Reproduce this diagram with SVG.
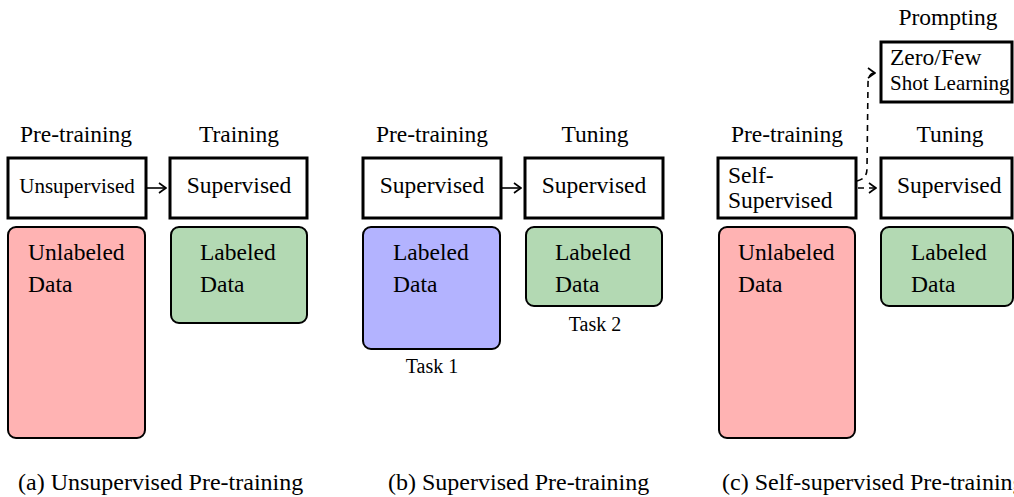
<svg xmlns="http://www.w3.org/2000/svg" width="1014" height="497" viewBox="0 0 1014 497">
<style>
text{fill:#000}
.t{font-size:23.5px}
.s{font-size:21px}
.k{font-size:20px}
.c{font-size:24px}
.m{text-anchor:middle}
.box{fill:#fff;stroke:#000;stroke-width:3}
.data{stroke:#000;stroke-width:2}
.red{fill:#FFB3B3}
.grn{fill:#B3D9B3}
.blu{fill:#B3B3FF}
.ar{fill:none;stroke:#000;stroke-width:1.6}
.dash{stroke-dasharray:6 5}
</style>
<defs>
<marker id="chev" viewBox="0 0 10 12" refX="9" refY="6" markerWidth="10" markerHeight="12" markerUnits="userSpaceOnUse" orient="auto">
<path d="M2,1 Q6,4 9,6 Q6,8 2,11" fill="none" stroke="#000" stroke-width="1.6"/>
</marker>
</defs>
<g id="connectors">
<path class="ar" d="M147,188 L166,188" marker-end="url(#chev)"/>
<path class="ar" d="M502,188 L521,188" marker-end="url(#chev)"/>
<path class="ar dash" d="M858,188 L876,188" marker-end="url(#chev)"/>
<path class="ar dash" d="M857,181 C864,179 867,176 867,168 L868,84 C868,77 870,73 875,73" marker-end="url(#chev)"/>
</g>
<g font-family="'Liberation Serif', Tinos, 'Times New Roman', 'DejaVu Serif', serif">
<g id="panel-a">
<text class="t m" x="76" y="142">Pre-training</text>
<text class="t m" x="239" y="142">Training</text>
<g id="a-unsup"><rect class="box" x="8" y="158" width="138" height="60"/><text class="s m" x="77" y="193">Unsupervised</text></g>
<g id="a-sup"><rect class="box" x="170" y="158" width="137" height="60"/><text class="t m" x="239" y="193">Supervised</text></g>
<g id="a-unlabeled"><rect class="data red" x="8" y="227" width="137" height="211" rx="8"/><text class="t" x="28" y="260">Unlabeled</text><text class="t" x="28" y="292">Data</text></g>
<g id="a-labeled"><rect class="data grn" x="171" y="227" width="136" height="96" rx="8"/><text class="t" x="200" y="260">Labeled</text><text class="t" x="200" y="292">Data</text></g>
<text class="c" x="18" y="490">(a) Unsupervised Pre-training</text>
</g>
<g id="panel-b">
<text class="t m" x="432" y="142">Pre-training</text>
<text class="t m" x="595" y="142">Tuning</text>
<g id="b-sup1"><rect class="box" x="363" y="158" width="138" height="60"/><text class="t m" x="432" y="193">Supervised</text></g>
<g id="b-sup2"><rect class="box" x="525" y="158" width="138" height="60"/><text class="t m" x="594" y="193">Supervised</text></g>
<g id="b-labeled1"><rect class="data blu" x="363" y="227" width="137" height="122" rx="8"/><text class="t" x="393" y="260">Labeled</text><text class="t" x="393" y="292">Data</text></g>
<g id="b-labeled2"><rect class="data grn" x="526" y="227" width="136" height="79" rx="8"/><text class="t" x="555" y="260">Labeled</text><text class="t" x="555" y="292">Data</text></g>
<text class="k m" x="432" y="373">Task 1</text>
<text class="k m" x="595" y="331">Task 2</text>
<text class="c" x="388" y="490">(b) Supervised Pre-training</text>
</g>
<g id="panel-c">
<text class="t m" x="948" y="25">Prompting</text>
<g id="c-prompt"><rect class="box" x="881" y="42" width="131" height="60"/><text class="t" x="890" y="65">Zero/Few</text><text class="s" x="890" y="90">Shot Learning</text></g>
<text class="t m" x="787" y="142">Pre-training</text>
<text class="t m" x="950" y="142">Tuning</text>
<g id="c-self"><rect class="box" x="718" y="158" width="138" height="60"/><text class="t" x="728" y="183">Self-</text><text class="t" x="728" y="208">Supervised</text></g>
<g id="c-sup"><rect class="box" x="881" y="158" width="131" height="60"/><text class="t" x="897" y="193">Supervised</text></g>
<g id="c-unlabeled"><rect class="data red" x="719" y="227" width="136" height="211" rx="8"/><text class="t" x="738" y="260">Unlabeled</text><text class="t" x="738" y="292">Data</text></g>
<g id="c-labeled"><rect class="data grn" x="881" y="227" width="132" height="79" rx="8"/><text class="t" x="911" y="260">Labeled</text><text class="t" x="911" y="292">Data</text></g>
<text class="c" x="722" y="490">(c) Self-supervised Pre-training</text>
</g>
</g>
</svg>
